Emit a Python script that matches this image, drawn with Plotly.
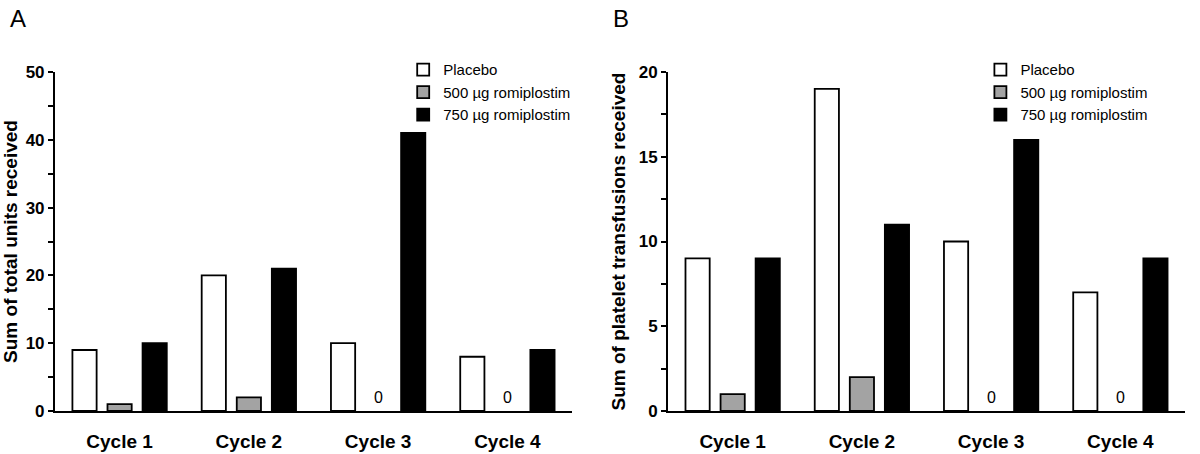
import plotly.graph_objects as go

cycles = ["Cycle 1", "Cycle 2", "Cycle 3", "Cycle 4"]
series_names = ["Placebo", "500 \u00b5g romiplostim", "750 \u00b5g romiplostim"]
units_placebo = [9, 20, 10, 8]
units_500 = [1, 2, 0, 0]
units_750 = [10, 21, 41, 9]
plt_placebo = [9, 19, 10, 7]
plt_500 = [1, 2, 0, 0]
plt_750 = [9, 11, 16, 9]

colors = ["#ffffff", "#a3a3a3", "#000000"]
FONT = "Arial, Liberation Sans, sans-serif"

fig = go.Figure()
for name, vals, col in zip(series_names, [units_placebo, units_500, units_750], colors):
    fig.add_trace(go.Bar(x=cycles, y=vals, name=name,
                         marker=dict(color=col, line=dict(color="black", width=[1.8 if v else 0 for v in vals])),
                         xaxis="x", yaxis="y", legend="legend"))
for name, vals, col in zip(series_names, [plt_placebo, plt_500, plt_750], colors):
    fig.add_trace(go.Bar(x=cycles, y=vals, name=name,
                         marker=dict(color=col, line=dict(color="black", width=[1.8 if v else 0 for v in vals])),
                         xaxis="x2", yaxis="y2", legend="legend2"))

yax_common = dict(showline=True, linecolor="black", linewidth=2, ticks="outside", ticklen=5, tickwidth=2,
                  tickcolor="black", showgrid=False, zeroline=False,
                  tickfont=dict(family=FONT, size=17, color="black", weight="bold"),
                  title_font=dict(family=FONT, size=19, color="black", weight="bold"),
                  automargin=False)
xax_common = dict(showline=True, linecolor="black", linewidth=2, ticks="", showgrid=False,
                  tickfont=dict(family=FONT, size=19, color="black", weight="bold"),
                  ticklabelstandoff=12, automargin=False)

fig.update_layout(
    width=1200, height=454, plot_bgcolor="white", paper_bgcolor="white",
    margin=dict(l=0, r=0, t=72, b=43),
    barmode="group", bargap=0.186, bargroupgap=0.31,
    xaxis=dict(domain=[0.0458, 0.4767], anchor="y", **xax_common),
    xaxis2=dict(domain=[0.5567, 0.9875], anchor="y2", **xax_common),
    yaxis=dict(range=[0, 50], dtick=10, anchor="x",
               minor=dict(dtick=5, ticks="outside", ticklen=5, tickwidth=2, tickcolor="black", showgrid=False),
               title=dict(text="Sum of total units received", standoff=8), **yax_common),
    yaxis2=dict(range=[0, 20], dtick=5, anchor="x2",
                minor=dict(dtick=2.5, ticks="outside", ticklen=5, tickwidth=2, tickcolor="black", showgrid=False),
                title=dict(text="Sum of platelet transfusions received", standoff=8), **yax_common),
    legend=dict(x=0.336, y=1.055, xanchor="left", yanchor="top", bgcolor="rgba(0,0,0,0)",
                font=dict(family=FONT, size=15, color="black"), tracegroupgap=0, itemwidth=30),
    legend2=dict(x=0.817, y=1.055, xanchor="left", yanchor="top", bgcolor="rgba(0,0,0,0)",
                 font=dict(family=FONT, size=15, color="black"), tracegroupgap=0, itemwidth=30),
    showlegend=True,
)

# zero labels for the 500 µg series
for xa, ya, vals in [("x", "y", units_500), ("x2", "y2", plt_500)]:
    for c, v in zip(cycles, vals):
        if v == 0:
            fig.add_annotation(x=c, y=0, xref=xa, yref=ya, text="0", showarrow=False, yanchor="bottom", yshift=3,
                               font=dict(family=FONT, size=16, color="black"))

fig.add_annotation(x=0.007, y=1.0, xref="paper", yref="paper", yshift=72 - 3, text="A", showarrow=False,
                   xanchor="left", yanchor="top", font=dict(family=FONT, size=24, color="black"))
fig.add_annotation(x=0.509, y=1.0, xref="paper", yref="paper", yshift=72 - 3, text="B", showarrow=False,
                   xanchor="left", yanchor="top", font=dict(family=FONT, size=24, color="black"))

fig.write_html("out.html", config={"displayModeBar": False},
               post_script="document.body.style.margin='0';document.body.style.overflow='hidden';")
